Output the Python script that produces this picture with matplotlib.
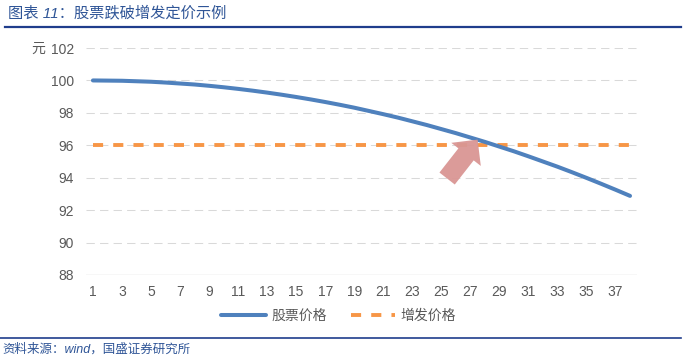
import matplotlib.pyplot as plt
import numpy as np

plt.rcParams['font.family'] = ['Liberation Sans', 'Noto Sans CJK SC', 'DejaVu Sans']

# data (38 trading days)
days = list(range(1, 39))
stock_price = [100.00, 99.99, 99.98, 99.95, 99.92, 99.87, 99.81, 99.75, 99.67, 99.58,
               99.48, 99.37, 99.25, 99.12, 98.98, 98.83, 98.67, 98.50, 98.32, 98.12,
               97.92, 97.71, 97.48, 97.25, 97.00, 96.75, 96.48, 96.21, 95.92, 95.63,
               95.32, 95.00, 94.68, 94.34, 93.99, 93.63, 93.26, 92.88]
issue_price = [96.0] * len(days)
x_labels = [str(d) if d % 2 == 1 and d <= 37 else '' for d in days]
y_ticks = [88, 90, 92, 94, 96, 98, 100, 102]

title = '图表 11：股票跌破增发定价示例'
source = '资料来源：wind，国盛证券研究所'

fig = plt.figure(figsize=(7, 3.57), dpi=100)
ax = fig.add_axes([0.1224, 0.2297, 0.788, 0.6358])

# grid
for v in y_ticks[1:]:
    ax.axhline(v, color='#D9D9D9', lw=0.75, linestyle=(0, (8, 5)), zorder=1)
ax.axhline(88, color='#D9D9D9', lw=1.0, zorder=1)

ax.plot(days, stock_price, color='#4F81BD', lw=2.9, solid_capstyle='round',
        label='股票价格', zorder=3)
ax.plot(days, issue_price, color='#F79646', lw=2.8, linestyle=(0, (2.6, 2.6)),
        dash_capstyle='butt', label='增发价格', zorder=2)

# arrow pointing at the crossing
ax.annotate('', xy=(27.5, 96.35), xytext=(25.4, 93.95),
            arrowprops=dict(arrowstyle='simple,head_length=1.35,head_width=2.7,tail_width=1.4',
                            mutation_scale=10, shrinkA=0, shrinkB=0,
                            fc='#D99694', ec='none', alpha=0.95),
            zorder=5)

ax.set_xlim(0.5, 38.5)
ax.set_ylim(88, 102)
ax.set_yticks(y_ticks)
ax.set_yticklabels([str(v) for v in y_ticks])
ax.set_xticks(days)
ax.set_xticklabels(x_labels)
ax.tick_params(length=0, labelsize=10, colors='#595959', pad=8.5)
ax.tick_params(axis='x', pad=7)
for s in ax.spines.values():
    s.set_visible(False)

fig.text(0.044, 0.862, '元', fontsize=10, color='#595959', ha='left', va='center',
         family=['Noto Sans CJK SC'])

ax.legend(loc='center', bbox_to_anchor=(0.484, 0.115), bbox_transform=fig.transFigure,
          ncol=2, frameon=False, fontsize=10, handlelength=3.2, columnspacing=1.7,
          handletextpad=0.4, labelcolor='#595959')

# title and source with rules
fig.text(0.011, 0.963, title, fontsize=11, color='#2F5597', style='italic',
         ha='left', va='center')
fig.add_artist(plt.Line2D([0.007, 0.973], [0.924, 0.924], color='#1F3D8C', lw=1.6))
fig.add_artist(plt.Line2D([0.0, 0.973], [0.053, 0.053], color='#1F3D8C', lw=1.2))
fig.text(0.004, 0.022, source, fontsize=9, color='#2F5597', style='italic',
         ha='left', va='center')

fig.savefig('out.png', dpi=100)
